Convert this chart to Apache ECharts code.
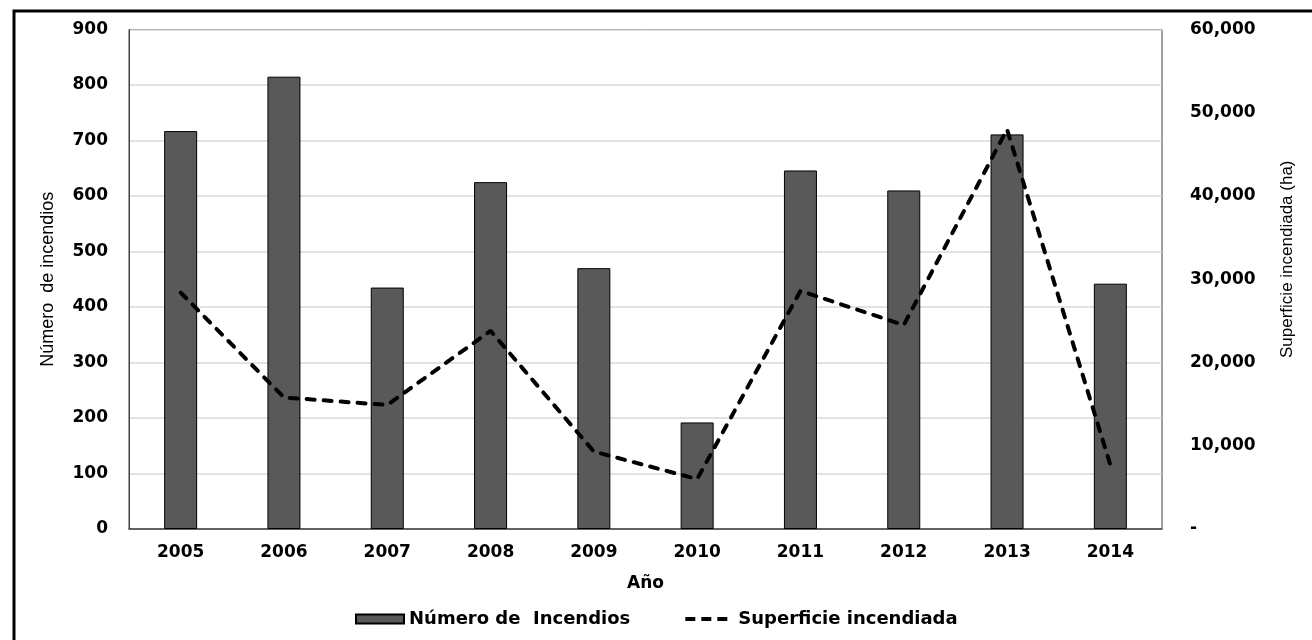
<!DOCTYPE html>
<html>
<head>
<meta charset="utf-8">
<script src="https://cdn.jsdelivr.net/npm/echarts@6/dist/echarts.min.js"></script>
<style>
html,body{margin:0;padding:0;background:#fff;}
#chart{width:1312px;height:640px;}
</style>
</head>
<body>
<div id="chart"></div>
<script>
const years = ['2005','2006','2007','2008','2009','2010','2011','2012','2013','2014'];
const numeroIncendios = [717, 815, 435, 625, 470, 192, 646, 610, 711, 442];
const superficie = [28400, 15800, 14900, 23800, 9300, 6000, 28600, 24500, 48000, 7700];
const leftTicks = {min: 0, max: 900, interval: 100};
const rightTicks = {min: 0, max: 60000, interval: 10000};

const chart = echarts.init(document.getElementById('chart'));
const tickFont = {fontFamily: 'DejaVu Sans', fontWeight: 'bold', fontSize: 17, color: '#000'};

chart.setOption({
  animation: false,
  backgroundColor: '#fff',
  graphic: [{
    type: 'polyline', silent: true,
    shape: {points: [[14, 660], [14, 11], [1330, 11]]},
    style: {fill: 'none', stroke: '#000', lineWidth: 3}
  }],
  grid: {left: 129, right: 150, top: 29.5, bottom: 111, show: true, borderColor: '#404040', borderWidth: 1, backgroundColor: 'transparent'},
  legend: {
    left: 350, top: 605,
    itemWidth: 48, itemHeight: 9, itemGap: 53,
    textStyle: {fontFamily: 'DejaVu Sans', fontWeight: 'bold', fontSize: 18, color: '#000'},
    data: [
      {name: 'Número de  Incendios', icon: 'rect'},
      {name: 'Superficie incendiada', itemStyle: {opacity: 0}, lineStyle: {width: 4, type: [10, 6], cap: 'butt'}}
    ]
  },
  xAxis: {
    type: 'category',
    data: years,
    name: 'Año',
    nameLocation: 'middle',
    nameGap: 46,
    nameTextStyle: {fontFamily: 'DejaVu Sans', fontWeight: 'bold', fontSize: 17, color: '#000'},
    axisLine: {lineStyle: {color: '#404040', width: 1.5}},
    axisTick: {show: false},
    axisLabel: Object.assign({margin: 15}, tickFont)
  },
  yAxis: [{
    type: 'value',
    min: leftTicks.min, max: leftTicks.max, interval: leftTicks.interval,
    name: 'Número  de incendios',
    nameLocation: 'middle',
    nameGap: 72,
    nameTextStyle: {fontFamily: 'Liberation Sans', fontSize: 18, color: '#000'},
    axisLine: {show: true, lineStyle: {color: '#404040', width: 1}},
    axisTick: {show: false},
    axisLabel: Object.assign({margin: 21}, tickFont),
    splitLine: {lineStyle: {color: '#d9d9d9', width: 1.5}}
  }, {
    type: 'value',
    position: 'right',
    min: rightTicks.min, max: rightTicks.max, interval: rightTicks.interval,
    name: 'Superficie incendiada (ha)',
    nameLocation: 'middle',
    nameGap: 117,
    nameTextStyle: {fontFamily: 'Liberation Sans', fontSize: 17, color: '#000', padding: [0, 0, 0, 40]},
    axisLine: {show: false},
    axisTick: {show: false},
    splitLine: {show: false},
    axisLabel: Object.assign({
      margin: 28,
      formatter: function (v) { return v === 0 ? '-' : v.toLocaleString('en-US'); }
    }, tickFont)
  }],
  series: [{
    name: 'Número de  Incendios',
    type: 'bar',
    data: numeroIncendios,
    barWidth: 33,
    itemStyle: {color: '#595959', borderColor: '#000', borderWidth: 1}
  }, {
    name: 'Superficie incendiada',
    type: 'line',
    yAxisIndex: 1,
    data: superficie,
    symbol: 'none',
    lineStyle: {color: '#000', width: 4, type: [8, 9], cap: 'round'},
    itemStyle: {color: '#000'}
  }]
});
</script>
</body>
</html>
